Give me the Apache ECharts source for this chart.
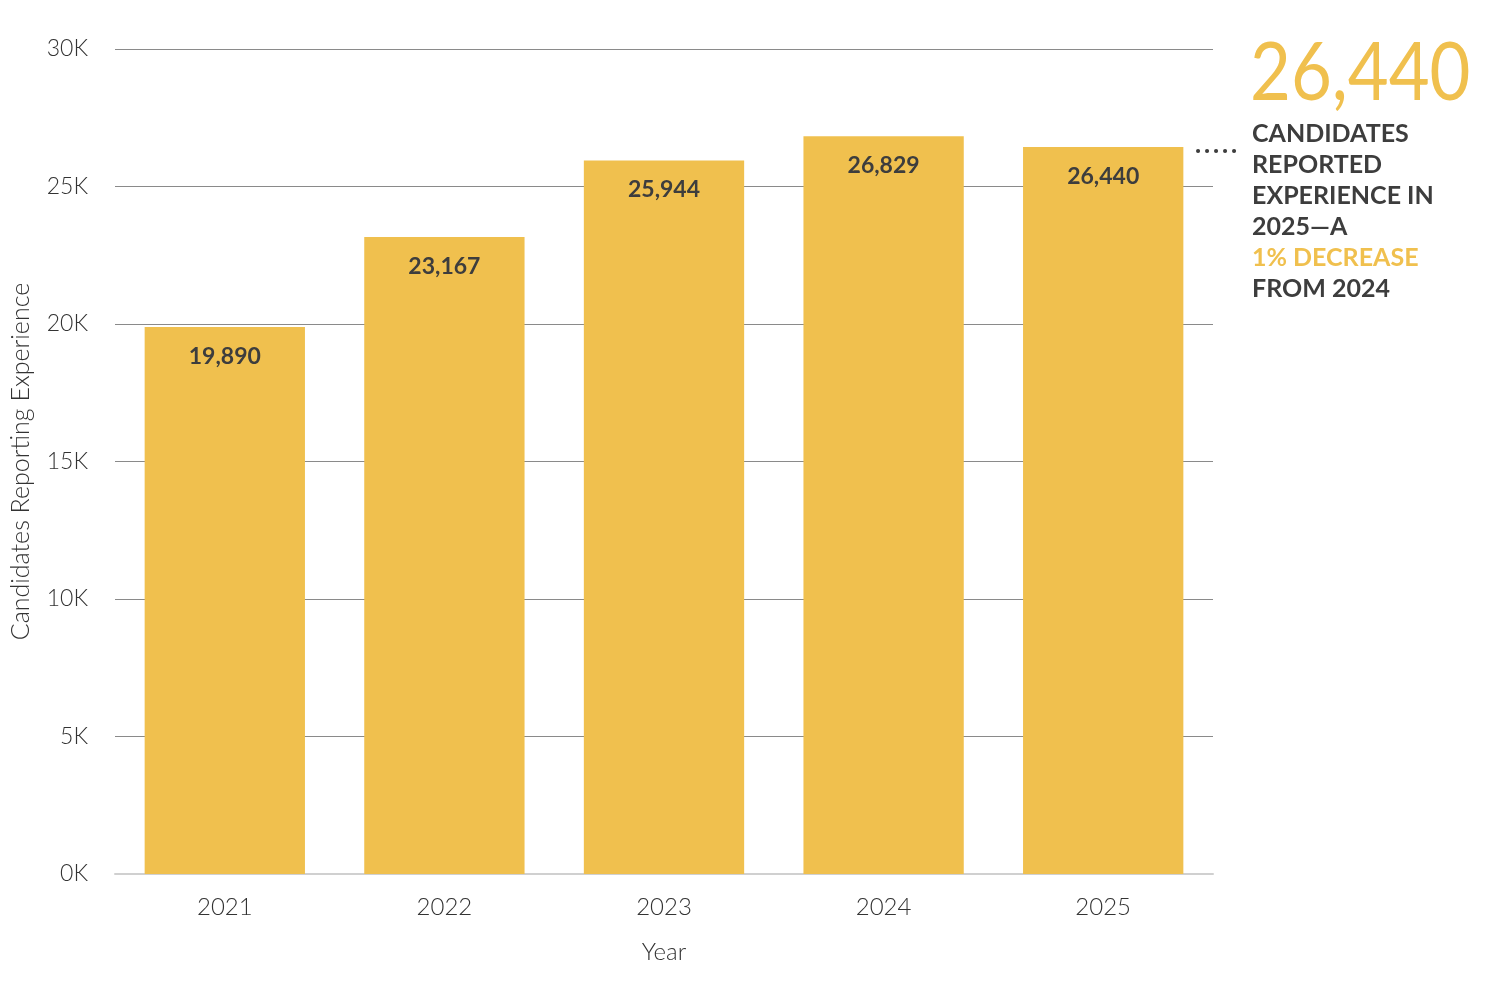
<!DOCTYPE html>
<html>
<head>
<meta charset="utf-8">
<script src="https://cdn.jsdelivr.net/npm/echarts@6/dist/echarts.min.js"></script>
<style>html,body{margin:0;padding:0;background:#fff}#c{width:1500px;height:983px}</style>
</head>
<body>
<div id="c"></div>
<script>
const years = ['2021', '2022', '2023', '2024', '2025'];
const candidates = [19890, 23167, 25944, 26829, 26440];
const yTicks = [0, 5000, 10000, 15000, 20000, 25000, 30000];
const calloutValue = '26,440';
const calloutLines = ['CANDIDATES', 'REPORTED', 'EXPERIENCE IN', '2025\u2014A'];
const calloutHighlight = '1% DECREASE';
const calloutLast = 'FROM 2024';

const gold = '#F0C04E';
const dark = '#3d3d3d';
const axisText = '#333';
const font = 'Lato';

const chart = echarts.init(document.getElementById('c'));
chart.setOption({
  animation: false,
  grid: { left: 115, right: 287, top: 49, bottom: 109, containLabel: false, outerBoundsMode: 'none' },
  xAxis: {
    type: 'category',
    data: years,
    name: 'Year',
    nameLocation: 'middle',
    nameGap: 66,
    nameTextStyle: { fontFamily: font, fontSize: 24, color: axisText, fontWeight: 300 },
    axisLine: { lineStyle: { color: '#d0d0d0', width: 2 } },
    axisTick: { show: false },
    axisLabel: { fontFamily: font, fontSize: 24, color: axisText, margin: 21, fontWeight: 300 }
  },
  yAxis: {
    type: 'value',
    min: yTicks[0],
    max: yTicks[yTicks.length - 1],
    interval: yTicks[1] - yTicks[0],
    name: 'Candidates Reporting Experience',
    nameLocation: 'middle',
    nameGap: 82,
    nameTextStyle: { fontFamily: font, fontSize: 25, color: axisText, fontWeight: 300 },
    axisLine: { show: false },
    axisTick: { show: false },
    splitLine: { lineStyle: { color: '#8a8a8a', width: 1.2 } },
    axisLabel: {
      fontFamily: font, fontSize: 23, color: axisText, margin: 27, fontWeight: 300,
      formatter: v => (v / 1000) + 'K'
    }
  },
  series: [{
    type: 'bar',
    data: candidates,
    barCategoryGap: '27%',
    itemStyle: { color: gold },
    label: {
      show: true,
      position: 'insideTop',
      distance: 18,
      fontFamily: font,
      fontWeight: 'bold',
      fontSize: 23,
      color: dark,
      formatter: p => p.value.toLocaleString('en-US')
    }
  }],
  graphic: [
    {
      type: 'line',
      shape: { x1: 1198, y1: 151, x2: 1238, y2: 151 },
      style: { stroke: dark, lineWidth: 4, lineDash: [0.1, 8.9], lineCap: 'round' }
    },
    {
      type: 'text', x: 1250, y: 33, scaleX: 0.86,
      style: { text: calloutValue, fontFamily: font, fontSize: 82, fill: gold, fontWeight: 'normal', textVerticalAlign: 'top' }
    },
    {
      type: 'text', left: 1252, top: 118,
      style: {
        text: calloutLines.join('\n'),
        fontFamily: font, fontSize: 25, fontWeight: 'bold', fill: dark, lineHeight: 31
      }
    },
    {
      type: 'text', left: 1252, top: 242,
      style: { text: calloutHighlight, fontFamily: font, fontSize: 25, fontWeight: 'bold', fill: gold, lineHeight: 31 }
    },
    {
      type: 'text', left: 1252, top: 273,
      style: { text: calloutLast, fontFamily: font, fontSize: 25, fontWeight: 'bold', fill: dark, lineHeight: 31 }
    }
  ]
});
</script>
</body>
</html>
